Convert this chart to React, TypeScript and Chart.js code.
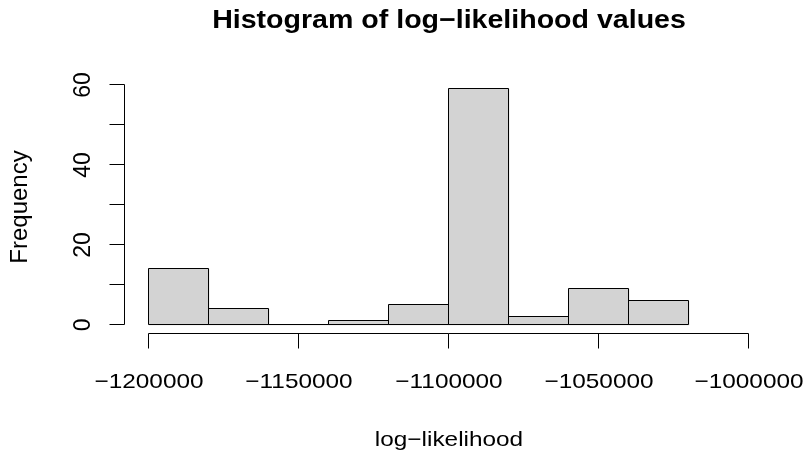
import React, { useEffect, useRef } from "react";
import { Chart, registerables } from "chart.js";

Chart.register(...registerables);

const breaks = [-1200000, -1180000, -1160000, -1140000, -1120000, -1100000, -1080000, -1060000, -1040000, -1020000];
const counts = [14, 4, 0, 1, 5, 59, 2, 9, 6];
const xTicks = [-1200000, -1150000, -1100000, -1050000, -1000000];
const xTickLabels = ["\u22121200000", "\u22121150000", "\u22121100000", "\u22121050000", "\u22121000000"];
const yTicks = [0, 10, 20, 30, 40, 50, 60];
const yLabelTicks = [0, 20, 40, 60];
const yLabelTexts = ["0", "20", "40", "60"];
const titleText = "Histogram of log\u2212likelihood values";
const xTitle = "log\u2212likelihood";
const yTitle = "Frequency";

const FONT = '"Liberation Sans", Arial, Helvetica, sans-serif';

function drawText(ctx: CanvasRenderingContext2D, text: string, x: number, y: number, font: string, sx: number, rot: number) {
  ctx.save();
  ctx.translate(x, y);
  if (rot) ctx.rotate(rot);
  if (rot) ctx.scale(1, sx);
  else ctx.scale(sx, 1);
  ctx.font = font;
  ctx.fillStyle = "#000";
  ctx.textAlign = "center";
  ctx.textBaseline = "alphabetic";
  ctx.fillText(text, 0, 0);
  ctx.restore();
}

const rPlot = {
  id: "rPlot",
  afterDatasetsDraw(chart: any) {
    const ctx: CanvasRenderingContext2D = chart.ctx;
    const meta = chart.getDatasetMeta(0);
    ctx.save();
    ctx.strokeStyle = "#000";
    ctx.lineWidth = 1;
    meta.data.forEach((el: any) => {
      const p = el.getProps(["x", "y", "base", "width"], true);
      const l = Math.round(p.x - p.width / 2) - 0.5;
      const r = Math.round(p.x + p.width / 2) - 0.5;
      const t = Math.round(p.y) - 0.5;
      const b = Math.round(p.base) - 0.5;
      ctx.beginPath();
      ctx.rect(l, t, r - l, b - t);
      ctx.stroke();
    });
    ctx.restore();
  },
  afterDraw(chart: any) {
    const ctx: CanvasRenderingContext2D = chart.ctx;
    const xs = chart.scales.x;
    const ys = chart.scales.y;
    const area = chart.chartArea;
    const tick = 15;
    ctx.save();
    ctx.strokeStyle = "#000";
    ctx.lineWidth = 1;
    // x axis
    const ay = Math.round(area.bottom) - 0.5;
    const x0 = Math.round(xs.getPixelForValue(xTicks[0])) - 0.5;
    const x1 = Math.round(xs.getPixelForValue(xTicks[xTicks.length - 1])) - 0.5;
    ctx.beginPath();
    ctx.moveTo(x0, ay);
    ctx.lineTo(x1, ay);
    xTicks.forEach((v) => {
      const px = Math.round(xs.getPixelForValue(v)) - 0.5;
      ctx.moveTo(px, ay);
      ctx.lineTo(px, ay + tick);
    });
    ctx.stroke();
    // y axis
    const ax = Math.round(area.left) - 0.5;
    const y0 = Math.round(ys.getPixelForValue(yTicks[0])) - 0.5;
    const y1 = Math.round(ys.getPixelForValue(yTicks[yTicks.length - 1])) - 0.5;
    ctx.beginPath();
    ctx.moveTo(ax, y0);
    ctx.lineTo(ax, y1);
    yTicks.forEach((v) => {
      const py = Math.round(ys.getPixelForValue(v)) - 0.5;
      ctx.moveTo(ax, py);
      ctx.lineTo(ax - tick, py);
    });
    ctx.stroke();
    ctx.restore();

    const tickFont = `21px ${FONT}`;
    xTicks.forEach((v, i) => {
      drawText(ctx, xTickLabels[i], xs.getPixelForValue(v), ay + 54, tickFont, 1.16, 0);
    });
    yLabelTicks.forEach((v, i) => {
      drawText(ctx, yLabelTexts[i], ax - 34.5, ys.getPixelForValue(v), `23px ${FONT}`, 1, -Math.PI / 2);
    });
    const cx = (area.left + area.right) / 2;
    const cy = (area.top + area.bottom) / 2;
    drawText(ctx, titleText, cx, 28, `bold 25.5px ${FONT}`, 1.12, 0);
    drawText(ctx, xTitle, cx, 446, `21px ${FONT}`, 1.16, 0);
    drawText(ctx, yTitle, 27, cy, `24px ${FONT}`, 1, -Math.PI / 2);
  },
};

export default function App() {
  const ref = useRef<HTMLCanvasElement | null>(null);
  useEffect(() => {
    if (!ref.current) return;
    const data = counts.map((c, i) => ({ x: (breaks[i] + breaks[i + 1]) / 2, y: c }));
    const chart = new Chart(ref.current, {
      type: "bar",
      data: {
        datasets: [
          {
            data: data as any,
            backgroundColor: "#D3D3D3",
            borderWidth: 0,
            categoryPercentage: 1,
            barPercentage: 1,
          },
        ],
      },
      options: {
        responsive: false,
        animation: false,
        events: [],
        layout: { padding: { left: 125, right: 33, top: 79.6, bottom: 117.6 } },
        plugins: { legend: { display: false }, tooltip: { enabled: false }, title: { display: false } },
        scales: {
          x: { type: "linear", min: -1208000, max: -992000, display: false, offset: false },
          y: { type: "linear", min: -2.36, max: 61.36, display: false },
        },
      },
      plugins: [rPlot],
    });
    return () => chart.destroy();
  }, []);
  return (
    <div style={{ position: "absolute", left: 0, top: 0, width: 806, height: 452, background: "#fff" }}>
      <canvas ref={ref} width={806} height={452} style={{ display: "block" }} />
    </div>
  );
}
